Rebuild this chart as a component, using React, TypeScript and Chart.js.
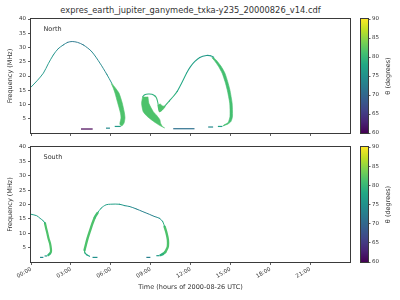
import React, { useEffect, useRef } from "react";
import { Chart, registerables } from "chart.js";
Chart.register(...registerables);

const FONT = "'DejaVu Sans', sans-serif";
const TEXT = "#333333";
const AXIS = "#3a3a3a";
const TITLE = "expres_earth_jupiter_ganymede_txka-y235_20000826_v14.cdf";
const X_LABEL = "Time (hours of 2000-08-26 UTC)";
const Y_LABEL = "Frequency (MHz)";
const CB_LABEL = "θ (degrees)";
const X_TICKS = [0, 3, 6, 9, 12, 15, 18, 21];
const X_MAX = 24;
const Y_TICKS = [5, 10, 15, 20, 25, 30, 35, 40];
const Y_MAX = 40;
const CB_TICKS = [60, 65, 70, 75, 80, 85, 90];
const CB_MIN = 60;
const CB_MAX = 90;

type Pt = [number, number, number]; // hour, MHz, theta (deg)
type XY = [number, number]; // hour, MHz
type Dash = [number, number, number, number]; // start hour, end hour, MHz, theta

// ---------- North hemisphere ----------
const northArcA: Pt[] = [
  [0, 16.1, 76], [0.45, 18.3, 76], [0.93, 21, 76], [1.3, 24.3, 76], [1.68, 27.4, 75],
  [2.05, 29.6, 74], [2.43, 30.9, 73], [2.75, 31.8, 72], [3.1, 32.1, 72], [3.5, 31.8, 72],
  [3.94, 30.9, 73], [4.56, 28.6, 74], [5.19, 24.5, 74], [5.7, 20.6, 75], [6.07, 17.5, 78],
];
const northBandA: XY[] = [
  [6.07, 17.5], [6.35, 15.8], [6.62, 14], [6.86, 10.6], [7.03, 7], [7.07, 5.3], [7.0, 3.5], [6.84, 2.5],
  [6.7, 2.9], [6.69, 3.5], [6.77, 5.3], [6.73, 7], [6.52, 10.6], [6.32, 14], [6.17, 16], [6.04, 17.3],
];
const northLoopLine: Pt[] = [
  [8.4, 12.7, 79], [8.55, 13.4, 79], [8.82, 13.7, 79], [9.1, 13.6, 79], [9.35, 12.9, 80],
  [9.45, 12.2, 80], [9.55, 10.5, 80], [9.6, 8.6, 81], [9.7, 7.6, 81], [9.9, 8.6, 80],
  [10.08, 9.5, 80], [10.4, 11.2, 79], [10.7, 12.8, 79], [11.0, 14.6, 78], [11.2, 16.3, 78],
  [11.45, 18.6, 78], [11.7, 21, 77], [12.0, 23.3, 77], [12.33, 25.1, 77], [12.7, 26.5, 76],
  [13.2, 27.2, 76], [13.5, 27.1, 77], [13.75, 26.6, 78],
];
const northLobe: XY[] = [
  [8.4, 12.7], [8.32, 10.4], [8.44, 7.5], [8.75, 5.8], [9.07, 4.6], [9.4, 3.5], [9.7, 2.6], [10.05, 1.8],
  [9.9, 2.2], [9.75, 3.4], [9.7, 4.6], [9.45, 6.2], [9.2, 7.5], [8.87, 10.4], [8.8, 12.7],
];
const northCusp: XY[] = [
  [9.55, 9.8], [9.65, 7.4], [9.85, 7.9], [10.1, 9.3], [9.9, 9.5], [9.7, 10.3],
];
const northBandB: XY[] = [
  [13.7, 26.6], [13.95, 25.5], [14.3, 23.4], [14.59, 21], [14.8, 18], [14.96, 15.2], [15.13, 10.5],
  [15.16, 5.8], [15.04, 4], [14.83, 3.2], [14.46, 2.5],
  [14.5, 2.8], [14.82, 3.6], [14.97, 5.8], [14.95, 10.5], [14.76, 15.2], [14.6, 18], [14.38, 21],
  [14.1, 23.4], [13.8, 25.4], [13.6, 26.5],
];
const northDashes: Dash[] = [
  [3.76, 4.64, 1.4, 60],
  [5.64, 5.94, 1.7, 74],
  [6.3, 6.75, 2.3, 76],
  [10.7, 12.3, 1.5, 71],
  [13.33, 13.7, 2.1, 74],
  [14.06, 14.4, 2.3, 77],
];

// ---------- South hemisphere ----------
const southArcAThin: Pt[] = [
  [0, 16.6, 77], [0.43, 16.1, 77], [0.68, 15.2, 77], [0.93, 14.3, 78], [1.05, 13.5, 80],
];
const southArcAThick: Pt[] = [
  [1.05, 13.5, 81.5], [1.15, 11.5, 81.5], [1.23, 10, 81.5], [1.33, 8, 81.5], [1.43, 6.5, 81.5],
  [1.5, 4.5, 81.5], [1.5, 3.6, 81.5], [1.42, 2.9, 80], [1.3, 2.4, 78],
];
const southArcBCurl: Pt[] = [
  [4.4, 2.0, 77], [4.2, 2.5, 78], [4.05, 3.2, 80], [4.03, 4.2, 81],
];
const southArcBRise: Pt[] = [
  [4.03, 4.2, 81.5], [4.1, 5.5, 81.5], [4.26, 8.3, 81.5], [4.45, 11, 81.5], [4.63, 13.5, 81.5],
  [4.8, 15.5, 81], [5.0, 17, 80],
];
const southArcBTop: Pt[] = [
  [5.0, 17, 78], [5.27, 18.7, 77], [5.65, 19.9, 77], [6.0, 20.1, 77], [6.65, 20.1, 76],
  [7.05, 19.6, 75], [7.42, 19.3, 74], [7.9, 18.5, 73], [8.42, 17.5, 73], [8.9, 16.6, 73],
  [9.3, 15.8, 74], [9.67, 15.2, 76], [9.92, 14, 79], [10.05, 12.3, 80],
];
const southArcBFall: Pt[] = [
  [10.05, 12.3, 81.5], [10.2, 10, 81.5], [10.3, 7.7, 81.5], [10.3, 5.5, 81.5], [10.25, 4.8, 81.5],
  [10.1, 3.5, 81], [9.92, 2.8, 79], [9.75, 2.4, 77],
];
const southDashes: Dash[] = [
  [0.68, 0.93, 1.6, 74],
  [1.02, 1.22, 2.1, 76],
  [4.63, 5.0, 1.6, 75],
  [8.68, 8.98, 1.6, 73],
  [9.43, 9.67, 2.2, 76],
];

const BAND_THETA = 81.5;

// ---------- colour map ----------
const VIRIDIS = ["#440154", "#482475", "#414487", "#355f8d", "#2a788e", "#21918c", "#22a884", "#44bf70", "#7ad151", "#bddf26", "#fde725"];
function hexRgb(h: string): number[] {
  return [parseInt(h.slice(1, 3), 16), parseInt(h.slice(3, 5), 16), parseInt(h.slice(5, 7), 16)];
}
function viridis(theta: number): string {
  let t = (theta - CB_MIN) / (CB_MAX - CB_MIN);
  t = Math.max(0, Math.min(1, t));
  const s = t * (VIRIDIS.length - 1);
  const i = Math.min(VIRIDIS.length - 2, Math.floor(s));
  const f = s - i;
  const a = hexRgb(VIRIDIS[i]);
  const b = hexRgb(VIRIDIS[i + 1]);
  const c = a.map((v, k) => Math.round(v + (b[k] - v) * f));
  return `rgb(${c[0]},${c[1]},${c[2]})`;
}

// ---------- dataset builders ----------
function lineDs(points: Pt[], width: number) {
  return {
    data: points.map((p) => ({ x: p[0], y: p[1] })),
    showLine: true,
    borderWidth: width,
    borderColor: viridis(points[0][2]),
    segment: { borderColor: (c: any) => viridis(points[c.p0DataIndex][2]) },
    pointRadius: 0,
    tension: 0.3,
    fill: false,
    borderCapStyle: "round",
  };
}
function bandDs(poly: XY[], theta: number) {
  const col = viridis(theta);
  return {
    data: poly.map((p) => ({ x: p[0], y: p[1] })),
    showLine: true,
    fill: "shape",
    backgroundColor: col,
    borderColor: col,
    borderWidth: 0.6,
    pointRadius: 0,
    tension: 0.2,
  };
}
function dashDs(d: Dash) {
  return {
    data: [{ x: d[0], y: d[2] }, { x: d[1], y: d[2] }],
    showLine: true,
    borderWidth: 1.2,
    borderColor: viridis(d[3]),
    pointRadius: 0,
    fill: false,
  };
}

const northDatasets = () => [
  lineDs(northArcA, 0.95),
  bandDs(northBandA, BAND_THETA),
  bandDs(northLobe, BAND_THETA),
  bandDs(northCusp, BAND_THETA),
  lineDs(northLoopLine, 1.05),
  bandDs(northBandB, BAND_THETA - 0.5),
  ...northDashes.map(dashDs),
];
const southDatasets = () => [
  lineDs(southArcAThin, 1.0),
  lineDs(southArcAThick, 2.2),
  lineDs(southArcBCurl, 1.2),
  lineDs(southArcBRise, 2.4),
  lineDs(southArcBTop, 1.0),
  lineDs(southArcBFall, 2.4),
  ...southDashes.map(dashDs),
];

// ---------- plugins ----------
const framePlugin = {
  id: "frame",
  afterDraw(chart: any) {
    const { ctx, chartArea } = chart;
    const l = Math.round(chartArea.left) - 0.5;
    const t = Math.round(chartArea.top) - 0.5;
    const r = Math.round(chartArea.right) + 0.5;
    const b = Math.round(chartArea.bottom) + 0.5;
    ctx.save();
    ctx.strokeStyle = AXIS;
    ctx.lineWidth = 1;
    ctx.strokeRect(l, t, r - l, b - t);
    ctx.restore();
  },
};
const panelLabelPlugin = {
  id: "panelLabel",
  afterDraw(chart: any, _args: any, opts: any) {
    if (!opts || !opts.text) return;
    const { ctx, chartArea } = chart;
    ctx.save();
    ctx.fillStyle = TEXT;
    ctx.font = `6.5px ${FONT}`;
    ctx.textBaseline = "middle";
    ctx.textAlign = "left";
    ctx.fillText(opts.text, chartArea.left + 12.5, chartArea.top + 10.5);
    ctx.restore();
  },
};
const cbLabelPlugin = {
  id: "cbLabel",
  afterDraw(chart: any, _args: any, opts: any) {
    if (!opts || !opts.text) return;
    const { ctx, chartArea } = chart;
    ctx.save();
    ctx.fillStyle = TEXT;
    ctx.font = `6.5px ${FONT}`;
    ctx.textBaseline = "middle";
    ctx.textAlign = "center";
    ctx.translate(chartArea.right + 20.5, (chartArea.top + chartArea.bottom) / 2);
    ctx.rotate(-Math.PI / 2);
    ctx.fillText(opts.text, 0, 0);
    ctx.restore();
  },
};

const two = (v: number) => (v < 10 ? "0" + v : "" + v);

function panelOptions(label: string, showX: boolean, padTop: number, xHeight: number) {
  return {
    animation: false,
    responsive: false,
    maintainAspectRatio: false,
    events: [],
    layout: { padding: { top: padTop, right: 5, left: 0, bottom: 0 } },
    plugins: {
      legend: { display: false },
      tooltip: { enabled: false },
      title: { display: false },
      panelLabel: { text: label },
    },
    scales: {
      x: {
        type: "linear",
        min: 0,
        max: X_MAX,
        afterBuildTicks: (s: any) => {
          s.ticks = X_TICKS.map((v) => ({ value: v }));
        },
        afterFit: (s: any) => {
          s.height = xHeight;
        },
        ticks: {
          display: showX,
          autoSkip: false,
          minRotation: 30,
          maxRotation: 30,
          padding: 1,
          color: TEXT,
          font: { family: FONT, size: 5.5 },
          callback: (v: any) => two(Number(v)) + ":00",
        },
        grid: { display: true, drawOnChartArea: false, drawTicks: true, tickLength: 3, color: AXIS, tickWidth: 0.8 },
        border: { display: false },
        title: {
          display: showX,
          text: X_LABEL,
          color: TEXT,
          font: { family: FONT, size: 6.5 },
          padding: { top: 0, bottom: 9 },
        },
      },
      y: {
        type: "linear",
        min: 0,
        max: Y_MAX,
        afterBuildTicks: (s: any) => {
          s.ticks = Y_TICKS.map((v) => ({ value: v }));
        },
        afterFit: (s: any) => {
          s.width = 31;
        },
        ticks: {
          padding: 2,
          color: TEXT,
          font: { family: FONT, size: 5.5 },
        },
        grid: { display: true, drawOnChartArea: false, drawTicks: true, tickLength: 3, color: AXIS, tickWidth: 0.8 },
        border: { display: false },
        title: {
          display: true,
          text: Y_LABEL,
          color: TEXT,
          font: { family: FONT, size: 6.5 },
          padding: { top: 6, bottom: 0 },
        },
      },
    },
  };
}

function colorbarConfig(padTop: number, padBottom: number) {
  return {
    type: "bar",
    data: {
      labels: [""],
      datasets: [
        {
          data: [[CB_MIN, CB_MAX]],
          barPercentage: 1,
          categoryPercentage: 1,
          borderWidth: 0,
          backgroundColor: (c: any) => {
            const { chart } = c;
            const area = chart.chartArea;
            if (!area) return VIRIDIS[5];
            const g = chart.ctx.createLinearGradient(0, area.bottom, 0, area.top);
            VIRIDIS.forEach((col, i) => g.addColorStop(i / (VIRIDIS.length - 1), col));
            return g;
          },
        },
      ],
    },
    options: {
      animation: false,
      responsive: false,
      maintainAspectRatio: false,
      events: [],
      layout: { padding: { top: padTop, bottom: padBottom, left: 6, right: 0 } },
      plugins: {
        legend: { display: false },
        tooltip: { enabled: false },
        cbLabel: { text: CB_LABEL },
      },
      scales: {
        x: { display: false },
        y: {
          position: "right",
          min: CB_MIN,
          max: CB_MAX,
          afterBuildTicks: (s: any) => {
            s.ticks = CB_TICKS.map((v) => ({ value: v }));
          },
          afterFit: (s: any) => {
            s.width = 32;
          },
          ticks: { padding: 1.5, color: TEXT, font: { family: FONT, size: 5.5 } },
          grid: { display: true, drawOnChartArea: false, drawTicks: true, tickLength: 2.5, color: AXIS, tickWidth: 0.8 },
          border: { display: false },
        },
      },
    },
    plugins: [framePlugin, cbLabelPlugin],
  };
}

function useChart(ref: React.RefObject<HTMLCanvasElement>, make: () => any) {
  useEffect(() => {
    if (!ref.current) return;
    const chart = new Chart(ref.current, make());
    return () => chart.destroy();
  }, []);
}

export default function App() {
  const northRef = useRef<HTMLCanvasElement>(null);
  const southRef = useRef<HTMLCanvasElement>(null);
  const cbNorthRef = useRef<HTMLCanvasElement>(null);
  const cbSouthRef = useRef<HTMLCanvasElement>(null);

  useChart(northRef, () => ({
    type: "scatter",
    data: { datasets: northDatasets() },
    options: panelOptions("North", false, 19, 7),
    plugins: [framePlugin, panelLabelPlugin],
  }));
  useChart(southRef, () => ({
    type: "scatter",
    data: { datasets: southDatasets() },
    options: panelOptions("South", true, 7, 38),
    plugins: [framePlugin, panelLabelPlugin],
  }));
  useChart(cbNorthRef, () => colorbarConfig(19, 7));
  useChart(cbSouthRef, () => colorbarConfig(7, 18));

  const abs = (left: number, top: number, w: number, h: number): React.CSSProperties => ({
    position: "absolute",
    left,
    top,
    width: w,
    height: h,
  });

  return (
    <div style={{ position: "fixed", left: 0, top: 0, width: 400, height: 300, background: "#ffffff", overflow: "hidden" }}>
      <div
        style={{
          position: "absolute",
          left: 31,
          top: 6,
          width: 319,
          textAlign: "center",
          fontFamily: FONT,
          fontSize: "8.3px",
          lineHeight: 1,
          color: TEXT,
          whiteSpace: "nowrap",
        }}
      >
        {TITLE}
      </div>
      <canvas ref={northRef} width={355} height={140} style={abs(0, 0, 355, 140)} />
      <canvas ref={southRef} width={355} height={160} style={abs(0, 140, 355, 160)} />
      <canvas ref={cbNorthRef} width={45} height={140} style={abs(355, 0, 45, 140)} />
      <canvas ref={cbSouthRef} width={45} height={140} style={abs(355, 140, 45, 140)} />
    </div>
  );
}
